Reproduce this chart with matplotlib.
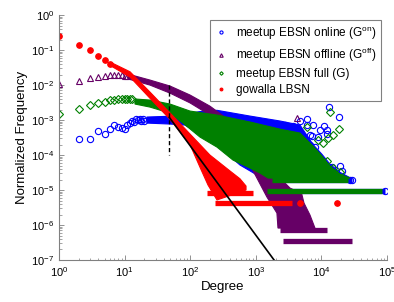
"""Degree distributions: meetup EBSN (online / offline / full) vs gowalla LBSN."""

import matplotlib
matplotlib.use("Agg")
import matplotlib.pyplot as plt

plt.rcParams["font.family"] = ["Liberation Sans", "DejaVu Sans"]
plt.rcParams["mathtext.default"] = "regular"

BLUE = "#0000ff"
PURPLE = "#660066"
GREEN = "#008000"
RED = "#ff0000"

# --- meetup EBSN online (G^on) ---------------------------------------------
on_deg = [2, 3, 4, 5, 6, 7, 8, 9, 10, 11, 12, 13, 14, 15, 16, 17, 18, 19, 20]
on_freq = [2.8e-4, 2.8e-4, 4.9e-4, 4.0e-4, 5.5e-4, 7.2e-4, 6.5e-4, 6.0e-4,
           5.4e-4, 7.2e-4, 8.1e-4, 9.3e-4, 8.9e-4, 1.07e-3, 1.0e-3, 1.05e-3,
           9.6e-4, 1.07e-3, 9.5e-4]
on_band_deg = [21.9, 58.7, 141, 256, 816, 2340, 4720, 7450, 10200, 13500,
               19200, 28000, 1650, 1240, 875, 574, 339, 168, 83.3, 49.2, 21.9]
on_band_freq = [1.22e-3, 1.30e-3, 1.75e-3, 1.9e-3, 1.3e-3, 9.4e-4, 7.2e-4,
                2.0e-4, 1.05e-4, 5.5e-5, 3.2e-5, 2.2e-5, 1.8e-5, 2.2e-5,
                3.27e-5, 5.2e-5, 1.22e-4, 3.27e-4, 7.2e-4, 7.7e-4, 8.2e-4]
on_sparse_deg = [2080, 2790, 3730, 4720, 5970, 5970, 7530, 9520, 10960, 12050,
                 13200, 18700, 8970, 6700, 6700, 7980, 7110, 12050, 7980,
                 14400, 19200, 20400, 27300, 93000, 29000]
on_sparse_freq = [7.2e-4, 7.2e-4, 6.7e-4, 9.5e-4, 1.06e-3, 7.2e-4, 7.2e-4,
                  5.2e-4, 6.7e-4, 5.2e-4, 2.4e-3, 1.19e-3, 3.33e-4, 3.7e-4,
                  1.93e-4, 1.73e-4, 3.5e-4, 4.0e-4, 7.2e-5, 4.6e-5, 4.9e-5,
                  3.6e-5, 1.93e-5, 9.5e-6, 1.9e-5]
on_rows_freq = [9.5e-6, 1.9e-5]
on_rows_start = [1480, 1770]
on_rows_end = [93000, 29000]

# --- meetup EBSN offline (G^off) -------------------------------------------
off_deg = [1, 2, 3, 4, 5, 6, 7, 8, 9, 10, 11]
off_freq = [1.07e-2, 1.33e-2, 1.55e-2, 1.74e-2, 1.86e-2, 1.95e-2, 1.95e-2,
            1.95e-2, 1.91e-2, 1.86e-2, 1.82e-2]
off_band_deg = [11.3, 24.4, 49.2, 99.3, 200, 405, 816, 1380, 2340, 3320, 4100,
                4890, 5430, 6700, 7980, 2180, 2100, 1480, 1080, 816, 405, 200,
                99.3, 49.2, 24.4, 11.3]
off_band_freq = [2.06e-2, 1.39e-2, 9.4e-3, 5.2e-3, 2.5e-3, 9.4e-4, 2.35e-4,
                 7.2e-5, 2.2e-5, 1.14e-5, 9.4e-6, 9.4e-6, 4.25e-6, 1.93e-6,
                 8.2e-7, 8.2e-7, 2.2e-6, 6.3e-6, 1.93e-5, 5.2e-5, 3.0e-4,
                 1.39e-3, 3.1e-3, 5.9e-3, 1.0e-2, 1.5e-2]
off_sparse_deg = [4200]
off_sparse_freq = [1.12e-3]
off_rows_freq = [3.5e-7, 7.0e-7]
off_rows_start = [2600, 2340]
off_rows_end = [29000, 12200]

# --- meetup EBSN full (G) --------------------------------------------------
full_deg = [1, 2, 3, 4, 5, 6, 7, 8, 9, 10, 11, 12, 13]
full_freq = [1.45e-3, 2.09e-3, 2.69e-3, 3.02e-3, 3.31e-3, 3.63e-3, 3.8e-3,
             3.98e-3, 3.98e-3, 4.07e-3, 3.98e-3, 3.98e-3, 3.9e-3]
full_band_deg = [14.4, 24.4, 49.2, 99.3, 256, 816, 2340, 4720, 7450, 10200,
                 13500, 19200, 27300, 1540, 1160, 816, 449, 256, 141, 77.6,
                 49.2, 24.4, 14.4]
full_band_freq = [4.0e-3, 3.73e-3, 2.87e-3, 1.81e-3, 1.39e-3, 8.8e-4, 5.5e-4,
                  4.25e-4, 1.81e-4, 9.4e-5, 4.85e-5, 2.87e-5, 2.2e-5, 2.2e-5,
                  3.06e-5, 4.25e-5, 7.2e-5, 1.69e-4, 3.27e-4, 8.2e-4, 1.58e-3,
                  2.35e-3, 2.87e-3]
full_sparse_deg = [13500, 5970, 18700, 15200, 12700, 10700, 8970, 6700, 6310,
                   12050, 19200, 15200]
full_sparse_freq = [1.73e-3, 6.45e-4, 5.4e-4, 3.7e-4, 3.0e-4, 2.16e-4, 2.7e-4,
                    1.39e-4, 1.12e-4, 6.9e-5, 3.3e-5, 4.2e-5]
full_rows_freq = [9.5e-6, 1.9e-5]
full_rows_start = [1480, 1770]
full_rows_end = [83500, 25400]

# --- gowalla LBSN ----------------------------------------------------------
gw_deg = [1, 2, 3, 4, 5, 6]
gw_freq = [0.26, 0.139, 0.098, 0.069, 0.052, 0.040]
gw_band_deg = [6.4, 12.1, 24.4, 49.2, 99.3, 200, 405, 574, 710, 710, 256, 187,
               141, 99.3, 49.2, 24.4, 12.1, 6.4]
gw_band_freq = [4.3e-2, 2.4e-2, 6.3e-3, 1.6e-3, 4.0e-4, 1.0e-4, 3.5e-5,
                2.1e-5, 1.3e-5, 1.0e-5, 5.2e-6, 1.39e-5, 4.5e-5, 2.0e-4,
                1.05e-3, 4.2e-3, 1.7e-2, 3.4e-2]
gw_sparse_deg = [4700, 17300]
gw_sparse_freq = [4.2e-6, 4.2e-6]
gw_rows_freq = [4.2e-6, 8.4e-6, 1.26e-5]
gw_rows_start = [239, 180, 200]
gw_rows_end = [3550, 906, 640]

# power-law fit and the cut-off marker
fit_deg = [48, 1900]
fit_freq = [1.2e-3, 1.0e-7]
cut_deg = [48, 48]
cut_freq = [1.0e-2, 1.0e-4]

SERIES = [
    ("meetup EBSN online (G$^{on}$)", BLUE, "o", "none", 4.5,
     on_deg, on_freq, on_band_deg, on_band_freq, on_sparse_deg, on_sparse_freq,
     on_rows_freq, on_rows_start, on_rows_end),
    ("meetup EBSN offline (G$^{off}$)", PURPLE, "^", "none", 5.0,
     off_deg, off_freq, off_band_deg, off_band_freq, off_sparse_deg,
     off_sparse_freq, off_rows_freq, off_rows_start, off_rows_end),
    ("meetup EBSN full (G)", GREEN, "D", "none", 3.6,
     full_deg, full_freq, full_band_deg, full_band_freq, full_sparse_deg,
     full_sparse_freq, full_rows_freq, full_rows_start, full_rows_end),
    ("gowalla LBSN", RED, "o", RED, 4.0,
     gw_deg, gw_freq, gw_band_deg, gw_band_freq, gw_sparse_deg, gw_sparse_freq,
     gw_rows_freq, gw_rows_start, gw_rows_end),
]

fig = plt.figure(figsize=(3.94, 3.02), dpi=100)
ax = fig.add_axes([0.1497, 0.139, 0.8325, 0.811])
ax.set_xscale("log")
ax.set_yscale("log")

handles = []
for (label, color, marker, face, ms, deg, freq, bdeg, bfreq, sdeg, sfreq,
     rfreq, rstart, rend) in SERIES:
    ax.fill(bdeg, bfreq, color=color, lw=0.8, ec=color, zorder=2)
    for f, a, b in zip(rfreq, rstart, rend):
        ax.plot([a, b], [f, f], color=color, lw=3.8, solid_capstyle="butt",
                zorder=2)
    ax.plot(sdeg, sfreq, ls="none", marker=marker, ms=ms, mfc=face,
            mec=color, mew=0.8, zorder=2)
    (h,) = ax.plot(deg, freq, ls="none", marker=marker, ms=ms, mfc=face,
                   mec=color, mew=0.8, zorder=2, label=label)
    handles.append(h)

ax.plot(fit_deg, fit_freq, color="black", lw=1.2, zorder=3)
ax.plot(cut_deg, cut_freq, color="black", lw=1.0, ls=(0, (3, 2)), zorder=3)

ax.set_xlim(1, 1e5)
ax.set_ylim(1e-7, 1)
ax.set_xlabel("Degree", fontsize=9.5, labelpad=2)
ax.set_ylabel("Normalized Frequency", fontsize=9.5, labelpad=2)

for side in ("top", "right"):
    ax.spines[side].set_visible(False)
for side in ("left", "bottom"):
    ax.spines[side].set_color("#808080")
    ax.spines[side].set_linewidth(0.8)
ax.tick_params(which="both", direction="in", colors="#808080",
               labelcolor="black", labelsize=8)
ax.tick_params(which="major", length=3.5, width=0.6)
ax.tick_params(which="minor", length=1.8, width=0.5)

leg = ax.legend(handles=handles, loc="upper right",
                bbox_to_anchor=(0.982, 0.98), borderaxespad=0,
                fontsize=8.5, markerscale=0.5, fancybox=False,
                framealpha=1, edgecolor="#808080", handlelength=1.0,
                handletextpad=0.8, labelspacing=0.35, borderpad=0.4)
leg.get_frame().set_linewidth(0.8)

fig.savefig("out.png", dpi=100)
